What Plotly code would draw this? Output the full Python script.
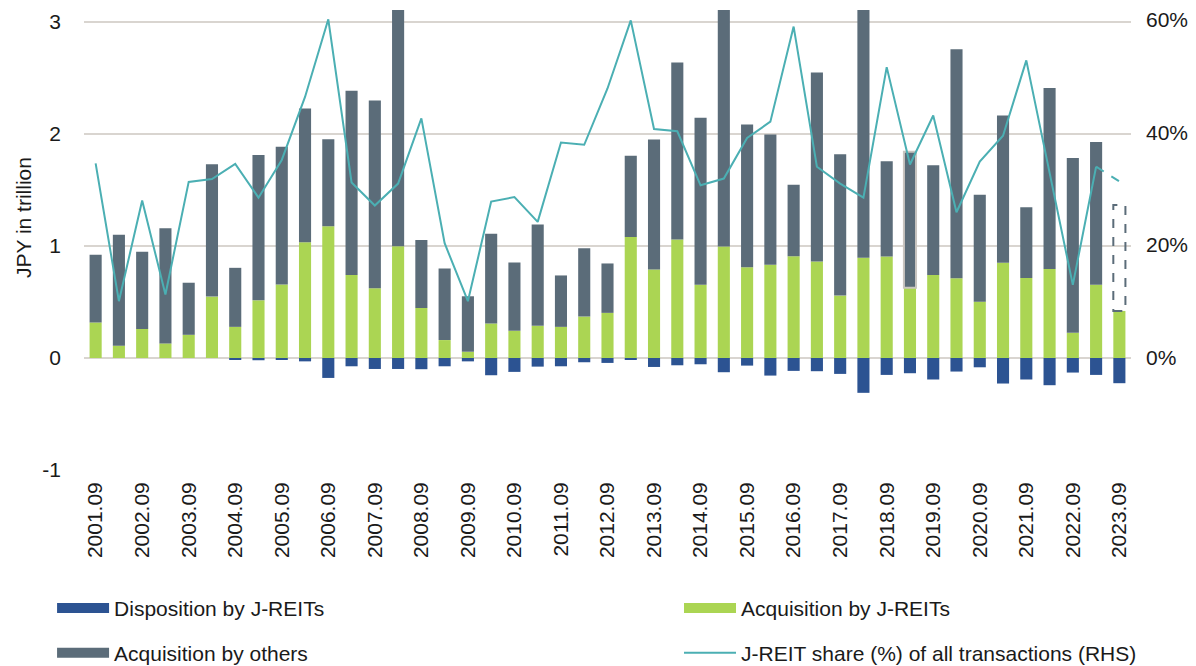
import plotly.graph_objects as go

cats = ["2001.09","2002.03","2002.09","2003.03","2003.09","2004.03","2004.09","2005.03","2005.09",
        "2006.03","2006.09","2007.03","2007.09","2008.03","2008.09","2009.03","2009.09","2010.03",
        "2010.09","2011.03","2011.09","2012.03","2012.09","2013.03","2013.09","2014.03","2014.09",
        "2015.03","2015.09","2016.03","2016.09","2017.03","2017.09","2018.03","2018.09","2019.03",
        "2019.09","2020.03","2020.09","2021.03","2021.09","2022.03","2022.09","2023.03","2023.09"]

acq_jreit = [0.317,0.11,0.26,0.13,0.207,0.548,0.278,0.515,0.657,1.033,1.176,0.74,0.622,0.998,0.447,
             0.16,0.056,0.308,0.243,0.287,0.278,0.37,0.403,1.081,0.79,1.057,0.654,0.995,0.811,0.832,
             0.909,0.862,0.557,0.894,0.906,0.628,0.74,0.711,0.503,0.85,0.714,0.794,0.225,0.654,0.42]

acq_others = [0.604,0.99,0.688,1.028,0.465,1.181,0.527,1.297,1.229,1.194,0.778,1.647,1.678,2.232,0.607,
              0.64,0.495,0.802,0.61,0.906,0.459,0.61,0.441,0.725,1.161,1.581,1.49,2.141,1.274,1.164,
              0.637,1.688,1.261,2.26,0.85,1.214,0.98,2.046,0.954,1.315,0.633,1.616,1.561,1.274,0.945]

disposition = [0,0,0,0,0,0,-0.01,-0.02,-0.01,-0.03,-0.178,-0.074,-0.098,-0.098,-0.10,
               -0.074,-0.03,-0.154,-0.124,-0.077,-0.074,-0.038,-0.044,-0.018,-0.08,-0.065,-0.056,-0.127,-0.068,-0.157,
               -0.115,-0.118,-0.142,-0.311,-0.151,-0.136,-0.192,-0.121,-0.083,-0.228,-0.192,-0.243,-0.13,-0.151,-0.225]

share = [34.5,10.0,27.9,11.2,31.2,31.7,34.4,28.4,35.1,46.3,60.1,31.1,27.0,30.9,42.5,
         20.3,10.0,27.7,28.5,24.1,38.2,37.8,47.8,59.9,40.6,40.2,30.6,31.8,39.0,41.9,
         58.8,33.9,30.9,28.4,51.6,34.3,43.0,25.8,34.8,39.4,52.8,32.9,12.9,33.9,31.3]

tick_labels = cats[::2]
left_ticks = [-1, 0, 1, 2, 3]
left_ticktext = ["-1", "0", "1", "2", "3"]
right_ticks = [0, 20, 40, 60]
right_ticktext = ["0%", "20%", "40%", "60%"]

BLUE = "#2C5392"
GREEN = "#ABD553"
SLATE = "#5B6C79"
TEAL = "#4BAFB3"
GRID = "#D9D5D0"
FONT = "Liberation Sans, Arial, sans-serif"
TXT = "#1a1a1a"
FS = 21

n = len(cats)
last = n - 1
others_colors = [SLATE] * n
others_colors[last] = "rgba(0,0,0,0)"
others_line_w = [0] * n
others_line_w[cats.index("2019.03")] = 2
others_line_c = ["#C9C5C0"] * n

fig = go.Figure()

fig.add_trace(go.Bar(x=cats, y=disposition, marker=dict(color=BLUE, line=dict(width=0)),
                     showlegend=False, name="Disposition by J-REITs"))
fig.add_trace(go.Bar(x=cats, y=acq_jreit, marker=dict(color=GREEN, line=dict(width=0)),
                     showlegend=False, name="Acquisition by J-REITs"))
fig.add_trace(go.Bar(x=cats, y=acq_others,
                     marker=dict(color=others_colors, line=dict(width=others_line_w, color=others_line_c)),
                     showlegend=False, name="Acquisition by others"))

fig.add_trace(go.Scatter(x=cats[:last], y=share[:last], yaxis="y2", mode="lines",
                         line=dict(color=TEAL, width=2), showlegend=False))
fig.add_trace(go.Scatter(x=cats[last-1:], y=share[last-1:], yaxis="y2", mode="lines",
                         line=dict(color=TEAL, width=2, dash="dash"), showlegend=False))

# dashed outline for the estimated "others" portion of the last period
half = 0.26
fig.add_shape(type="rect", xref="x", yref="y",
              x0=last - half, x1=last + half,
              y0=acq_jreit[last], y1=acq_jreit[last] + acq_others[last],
              line=dict(color=SLATE, width=2, dash="dash"), fillcolor="rgba(0,0,0,0)")

# legend entries
legend_items = [
    ("Disposition by J-REITs", BLUE, 11, "legend"),
    ("Acquisition by J-REITs", GREEN, 11, "legend2"),
    ("Acquisition by others", SLATE, 11, "legend3"),
    ("J-REIT share (%) of all transactions (RHS)", TEAL, 2, "legend4"),
]
for name, col, w, lg in legend_items:
    fig.add_trace(go.Scatter(x=[None], y=[None], mode="lines", name=name,
                             line=dict(color=col, width=w), legend=lg, showlegend=True))

leg_common = dict(orientation="v", xanchor="left", yanchor="middle", itemwidth=52,
                  font=dict(size=FS, family=FONT, color=TXT), bgcolor="rgba(0,0,0,0)")
col1, col2 = -0.0305, 0.5683
row1, row2 = -0.3009, -0.3983

fig.add_annotation(text="JPY in trillion", textangle=-90, xref="paper", yref="paper",
                   x=-0.0583, y=0.5498, xanchor="center", yanchor="middle", showarrow=False,
                   font=dict(size=FS, family=FONT, color=TXT))

fig.update_layout(
    width=1196, height=666,
    margin=dict(l=76, r=73, t=0, b=204),
    paper_bgcolor="white", plot_bgcolor="white",
    barmode="relative", bargap=0.48,
    font=dict(family=FONT, size=FS, color=TXT),
    xaxis=dict(type="category", categoryorder="array", categoryarray=cats,
               tickmode="array", tickvals=tick_labels, ticktext=tick_labels,
               tickangle=-90, showgrid=False, showline=False, zeroline=False,
               range=[-0.5, n - 0.5], tickfont=dict(size=FS), ticklabelstandoff=7),
    yaxis=dict(range=[-1, 3.107], tickmode="array", tickvals=left_ticks, ticktext=left_ticktext,
               showgrid=True, gridcolor=GRID, gridwidth=1.5, zeroline=False, showline=False,
               ticklabelstandoff=22, tickfont=dict(size=FS), ticklabeloverflow="allow"),
    yaxis2=dict(overlaying="y", side="right", range=[-20, 61.75], tickmode="array",
                tickvals=right_ticks, ticktext=right_ticktext,
                showgrid=False, zeroline=False, showline=False,
                ticklabelstandoff=14, tickfont=dict(size=FS), ticklabeloverflow="allow"),
    legend=dict(x=col1, y=row1, **leg_common),
    legend2=dict(x=col2, y=row1, **leg_common),
    legend3=dict(x=col1, y=row2, **leg_common),
    legend4=dict(x=col2, y=row2, **leg_common),
)

fig.write_html("out.html")
